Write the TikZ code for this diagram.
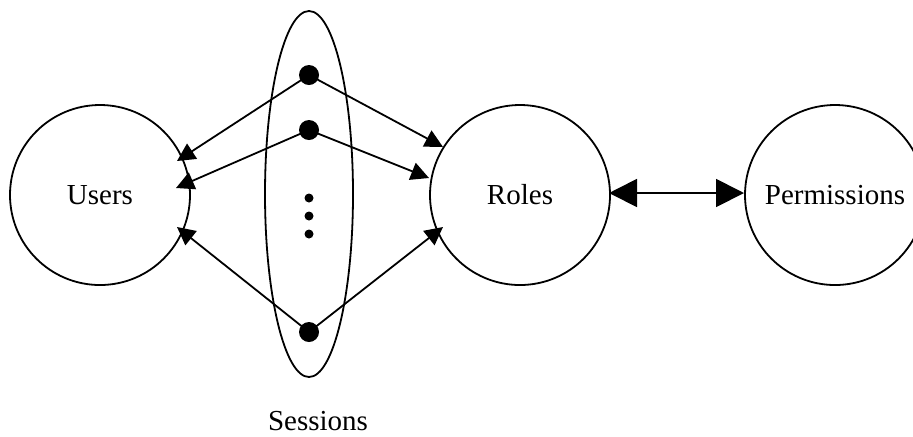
\documentclass[tikz,border=0pt]{standalone}
\usepackage{fontspec}
\setmainfont{Liberation Serif}
\usetikzlibrary{arrows.meta,shapes.geometric}
\begin{document}
\begin{tikzpicture}[x=0.5pt,y=-0.5pt,
  every node/.style={font=\fontsize{14.5}{17}\selectfont},
  setcircle/.style={draw,circle,line width=0.9pt,minimum size=90pt,inner sep=0pt},
  link/.style={line width=0.9pt,-{Triangle[length=9pt,width=9pt]}},
  biglink/.style={line width=0.9pt,{Triangle[length=14pt,width=14pt]}-{Triangle[length=14pt,width=14pt]}},
  bigdot/.style={circle,fill=black,minimum size=10pt,inner sep=0pt},
  smalldot/.style={circle,fill=black,minimum size=4.5pt,inner sep=0pt}]
\useasboundingbox (0,0) rectangle (913,436);

% the three sets
\node[setcircle] (users) at (100,195) {Users};
\node[setcircle] (roles) at (520,195) {Roles};
\node[setcircle] (perms) at (835,195) {Permissions};

% session container
\node[draw,ellipse,line width=0.9pt,minimum width=44pt,minimum height=183pt,inner sep=0pt] (sessions) at (309,194) {};
\node (sesslabel) at (318,421) {Sessions};

% individual sessions
\node[bigdot] (s1) at (309,75) {};
\node[bigdot] (s2) at (309,130) {};
\node[bigdot] (s3) at (309,332) {};
\node[smalldot] (d1) at (309,198) {};
\node[smalldot] (d2) at (309,216) {};
\node[smalldot] (d3) at (309,234) {};

% arrow end points on the user and role circles
\coordinate (u1) at (177,161);
\coordinate (u2) at (176,188);
\coordinate (u3) at (177,227);
\coordinate (r1) at (443,147);
\coordinate (r2) at (429,178);
\coordinate (r3) at (443,227);

\draw[link] (s1.center) -- (u1);
\draw[link] (s2.center) -- (u2);
\draw[link] (s3.center) -- (u3);
\draw[link] (s1.center) -- (r1);
\draw[link] (s2.center) -- (r2);
\draw[link] (s3.center) -- (r3);

% role-permission assignment
\coordinate (ra) at (609,193);
\coordinate (pa) at (744,193);
\draw[biglink] (ra) -- (pa);
\end{tikzpicture}
\end{document}
